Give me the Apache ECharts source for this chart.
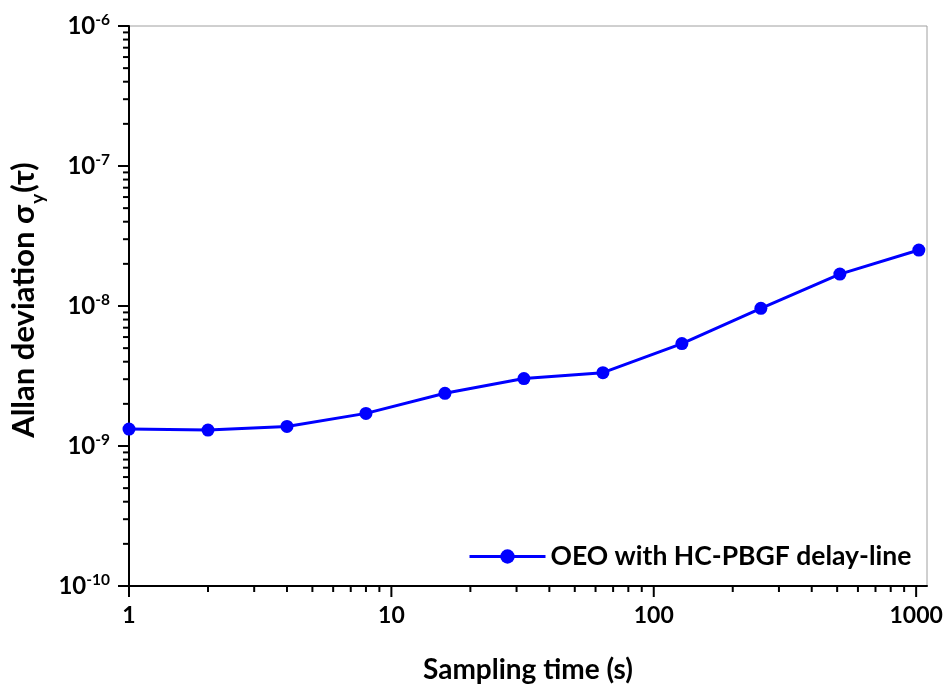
<!DOCTYPE html>
<html>
<head>
<meta charset="utf-8">
<script src="https://cdn.jsdelivr.net/npm/echarts@6/dist/echarts.min.js"></script>
<style>
html,body{margin:0;padding:0;background:#fff;}
#chart{width:950px;height:693px;}
</style>
</head>
<body>
<div id="chart"></div>
<script>
// ---- data ----
const samplingTime = [1, 2, 4, 8, 16, 32, 64, 128, 256, 512, 1024];
const allanDev = [1.32e-9, 1.30e-9, 1.38e-9, 1.71e-9, 2.38e-9, 3.03e-9, 3.34e-9, 5.39e-9, 9.63e-9, 1.69e-8, 2.51e-8];
const seriesName = 'OEO with HC-PBGF delay-line';
const xMajorTicks = [1, 10, 100, 1000];
const xMinorTicks = [2, 3, 4, 5, 6, 7, 8, 9, 20, 30, 40, 50, 60, 70, 80, 90, 200, 300, 400, 500, 600, 700, 800, 900];
const yMajorTicks = [1e-10, 1e-9, 1e-8, 1e-7, 1e-6];
const yMinorTicks = [
  2e-10, 3e-10, 4e-10, 5e-10, 6e-10, 7e-10, 8e-10, 9e-10,
  2e-9, 3e-9, 4e-9, 5e-9, 6e-9, 7e-9, 8e-9, 9e-9,
  2e-8, 3e-8, 4e-8, 5e-8, 6e-8, 7e-8, 8e-8, 9e-8,
  2e-7, 3e-7, 4e-7, 5e-7, 6e-7, 7e-7, 8e-7, 9e-7
];
const xMin = 1, xMax = 1100, yMin = 1e-10, yMax = 1e-6;

const FONT = 'Lato';
const chart = echarts.init(document.getElementById('chart'), null, {renderer: 'canvas'});

const xTickData = xMajorTicks.map(v => [v, yMin, 1]).concat(xMinorTicks.map(v => [v, yMin, 0]));
const yTickData = yMajorTicks.map(v => [xMin * 1.0001, v, 1]).concat(yMinorTicks.map(v => [xMin * 1.0001, v, 0]));

function isPow10(v) {
  const e = Math.log10(v);
  return Math.abs(e - Math.round(e)) < 1e-6;
}

const option = {
  animation: false,
  backgroundColor: '#fff',
  grid: {
    left: 129, top: 26, right: 23, bottom: 107,
    show: true, borderColor: '#a0a0a0', borderWidth: 1, backgroundColor: 'transparent'
  },
  legend: {
    data: [seriesName],
    left: 463, top: 538,
    itemWidth: 76, itemHeight: 18,
    lineStyle: {width: 3},
    textStyle: {fontFamily: FONT, fontWeight: 'bold', fontSize: 26.5, color: '#000'}
  },
  xAxis: {
    type: 'log', logBase: 10, min: xMin, max: xMax,
    name: 'Sampling time (s)', nameLocation: 'middle', nameGap: 70,
    nameTextStyle: {fontFamily: FONT, fontWeight: 'bold', fontSize: 28, color: '#000'},
    axisLine: {show: true, lineStyle: {color: '#000', width: 2}},
    axisTick: {show: false},
    splitLine: {show: false},
    axisLabel: {
      margin: 18, fontFamily: FONT, fontWeight: 'bold', fontSize: 23, color: '#000',
      formatter: v => isPow10(v) ? String(Math.round(v)) : ''
    }
  },
  yAxis: {
    type: 'log', logBase: 10, min: yMin, max: yMax,
    name: '{a|Allan deviation σ}{sub|y}{a|(τ)}', nameLocation: 'middle', nameGap: 87, nameRotate: 90,
    nameTextStyle: {
      fontFamily: FONT, fontWeight: 'bold', fontSize: 31, color: '#000', padding: [0, 0, 0, 12],
      rich: {
        a: {fontFamily: FONT, fontWeight: 'bold', fontSize: 31, color: '#000', lineHeight: 36},
        sub: {fontFamily: FONT, fontWeight: 'bold', fontSize: 19, color: '#000', verticalAlign: 'bottom', lineHeight: 36, padding: [0, 1, -6, 1]}
      }
    },
    axisLine: {show: true, lineStyle: {color: '#000', width: 2}},
    axisTick: {show: false},
    splitLine: {show: false},
    axisLabel: {
      margin: 19,
      formatter: v => isPow10(v) ? '{b|10}{s|' + Math.round(Math.log10(v)) + '}' : '',
      rich: {
        b: {fontFamily: FONT, fontWeight: 'bold', fontSize: 24, color: '#000', lineHeight: 28},
        s: {fontFamily: FONT, fontWeight: 'bold', fontSize: 15.5, color: '#000', verticalAlign: 'top', lineHeight: 28, padding: [0, 0, 12, 0]}
      }
    }
  },
  series: [
    {
      name: seriesName,
      type: 'line',
      data: samplingTime.map((t, i) => [t, allanDev[i]]),
      symbol: 'circle', symbolSize: 13,
      lineStyle: {color: '#0000ff', width: 3},
      itemStyle: {color: '#0000ff'},
      z: 5
    },
    {
      name: 'xticks', type: 'custom', clip: false, silent: true, z: 10,
      data: xTickData,
      renderItem: function (params, api) {
        const q = api.coord([api.value(0), api.value(1)]);
        const L = api.value(2) ? 11 : 6;
        return {type: 'rect', shape: {x: q[0] - 1, y: q[1], width: 2, height: L}, style: {fill: '#000'}};
      }
    },
    {
      name: 'yticks', type: 'custom', clip: false, silent: true, z: 10,
      data: yTickData,
      renderItem: function (params, api) {
        const q = api.coord([api.value(0), api.value(1)]);
        const L = api.value(2) ? 11 : 6;
        return {type: 'rect', shape: {x: q[0] - L, y: q[1] - 1, width: L, height: 2}, style: {fill: '#000'}};
      }
    }
  ]
};
chart.setOption(option);
</script>
</body>
</html>
